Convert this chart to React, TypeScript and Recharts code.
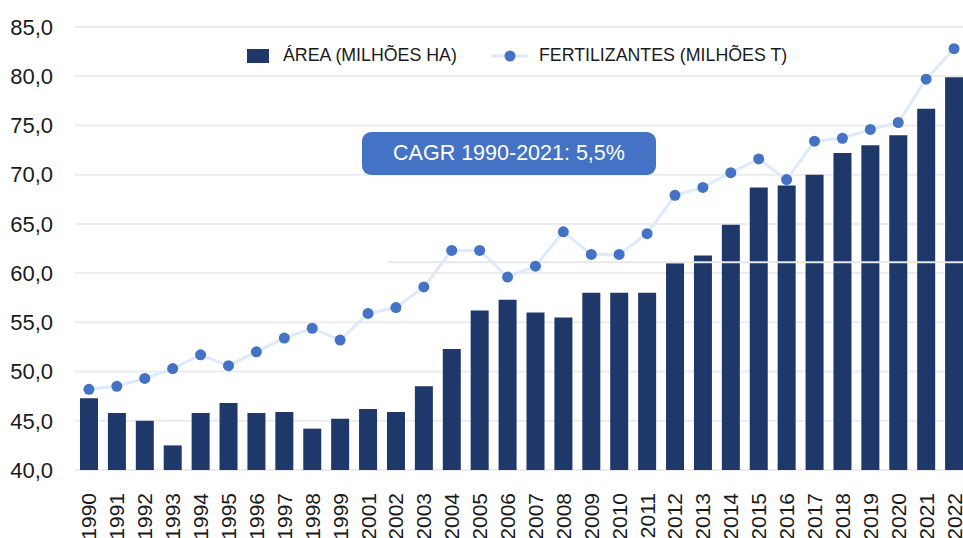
import React from 'react';
import { ComposedChart, Bar, Line, XAxis, YAxis, CartesianGrid, Legend, ReferenceLine } from 'recharts';

const years = ['1990','1991','1992','1993','1994','1995','1996','1997','1998','1999','2001','2002','2003','2004','2005','2006','2007','2008','2009','2010','2011','2012','2013','2014','2015','2016','2017','2018','2019','2020','2021','2022'];
const areaValues = [47.3,45.8,45.0,42.5,45.8,46.8,45.8,45.9,44.2,45.2,46.2,45.9,48.5,52.3,56.2,57.3,56.0,55.5,58.0,58.0,58.0,61.0,61.8,64.9,68.7,68.9,70.0,72.2,73.0,74.0,76.7,79.9];
const fertValues = [48.2,48.5,49.3,50.3,51.7,50.6,52.0,53.4,54.4,53.2,55.9,56.5,58.6,62.3,62.3,59.6,60.7,64.2,61.9,61.9,64.0,67.9,68.7,70.2,71.6,69.5,73.4,73.7,74.6,75.3,79.7,82.8];
const yTicks = [40,45,50,55,60,65,70,75,80,85];
const seriesNames = { area: 'ÁREA (MILHÕES HA)', fert: 'FERTILIZANTES (MILHÕES T)' };
const cagrLabel = 'CAGR 1990-2021: 5,5%';
const markerLineValue = 61.1;

const data = years.map((y, i) => ({ year: y, area: areaValues[i], fert: fertValues[i] }));

const FONT = '"Liberation Sans", Arial, sans-serif';
const BAR = '#1e3869';
const DOT = '#4472c4';
const LINE = '#dceafc';
const TEXT = '#1a1a1a';

const XTick = (props: any) => {
  const { x, y, payload } = props;
  return (
    <text x={x} y={y} transform={`rotate(-90, ${x}, ${y})`} textAnchor="end" dominantBaseline="central" fontSize={21} fill={TEXT} fontFamily={FONT}>
      {payload.value}
    </text>
  );
};

const renderLegend = (props: any) => {
  const payload = [...(props.payload || [])].sort((a: any, b: any) => (a.dataKey === 'area' ? -1 : 1) - (b.dataKey === 'area' ? -1 : 1));
  return (
    <div style={{ display: 'flex', alignItems: 'center', fontSize: 17.8, color: TEXT, fontFamily: FONT, whiteSpace: 'nowrap' }}>
      {payload.map((e: any, i: number) => (
        <div key={i} style={{ display: 'flex', alignItems: 'center', marginLeft: i === 0 ? 0 : 34 }}>
          {e.dataKey === 'area' ? (
            <span style={{ display: 'inline-block', width: 22, height: 14, background: BAR, marginRight: 14 }} />
          ) : (
            <svg width={37} height={14} style={{ marginRight: 11 }}>
              <line x1={0} y1={7} x2={37} y2={7} stroke={LINE} strokeWidth={3} />
              <circle cx={19} cy={7} r={5.5} fill={DOT} />
            </svg>
          )}
          <span>{e.value}</span>
        </div>
      ))}
    </div>
  );
};

const PartialLine = (p: any) => {
  const start = p.x1 + (p.x2 - p.x1) * 0.35;
  return <line x1={start} y1={p.y1} x2={p.x2} y2={p.y2} stroke="#e8e8e8" strokeWidth={2} />;
};

export default function App() {
  return (
    <div style={{ position: 'absolute', left: 0, top: 0, width: 963, height: 538, overflow: 'hidden', background: '#fff', fontFamily: FONT }}>
      <ComposedChart width={968} height={538} data={data} margin={{ top: 27, right: 0, left: 0, bottom: 0 }}>
        <CartesianGrid vertical={false} stroke="#ececec" strokeWidth={2} />
        <XAxis dataKey="year" interval={0} tickLine={false} axisLine={false} height={68} tickMargin={17} tick={<XTick />} />
        <YAxis domain={[40, 85]} ticks={yTicks} axisLine={false} tickLine={false} width={75} tickMargin={16}
          tickFormatter={(v: number) => v.toFixed(1).replace('.', ',')}
          tick={{ fontSize: 22, fill: TEXT, fontFamily: FONT }} />
        <Legend layout="horizontal" verticalAlign="middle" align="center" content={renderLegend}
          wrapperStyle={{ top: 45, left: 247, width: 'auto' }} />
        <Bar dataKey="area" name={seriesNames.area} fill={BAR} barSize={18} isAnimationActive={false} legendType="rect" />
        <ReferenceLine y={markerLineValue} shape={PartialLine} />
        <Line dataKey="fert" name={seriesNames.fert} stroke={LINE} strokeWidth={3} isAnimationActive={false}
          dot={{ r: 5.5, fill: DOT, stroke: 'none' }} activeDot={false} legendType="line" />
      </ComposedChart>
      <div style={{ position: 'absolute', left: 362, top: 132, width: 294, height: 43, background: DOT, borderRadius: 9, color: '#fff', fontSize: 21.5, display: 'flex', alignItems: 'center', justifyContent: 'center', fontFamily: FONT }}>
        {cagrLabel}
      </div>
    </div>
  );
}
